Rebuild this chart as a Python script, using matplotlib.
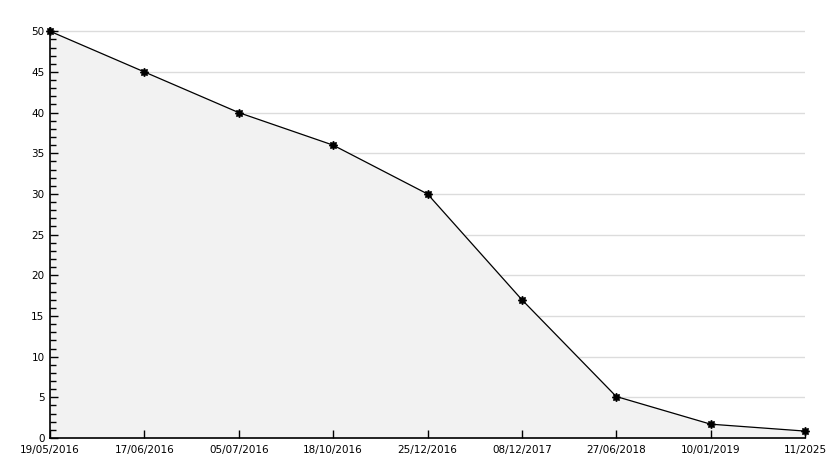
import matplotlib.pyplot as plt
from matplotlib.ticker import MultipleLocator

dates = ["19/05/2016", "17/06/2016", "05/07/2016", "18/10/2016", "25/12/2016",
         "08/12/2017", "27/06/2018", "10/01/2019", "11/2025"]
values = [50, 45, 40, 36, 30, 17, 5.1, 1.7, 0.85]
grid_levels = [5, 10, 15, 20, 25, 30, 35, 40, 45, 50]

fig = plt.figure(figsize=(8.34, 4.68), dpi=100)
W, H = 834, 468
ax = fig.add_axes([50 / W, 30 / H, 755 / W, 410 / H])

x = range(len(dates))
# grid sits behind the shaded area
for g in grid_levels:
    ax.axhline(g, color="#dcdcdc", lw=1, zorder=0)
ax.fill_between(x, values, 0, color="#f2f2f2", zorder=1)
ax.plot(x, values, color="black", lw=0.9, zorder=3)
ax.plot(x, values, linestyle="none", marker=(8, 1, 0), ms=6,
        color="black", zorder=4, clip_on=False)

ax.set_xlim(0, len(dates) - 1)
ax.set_ylim(0, 50.4)
ax.yaxis.set_major_locator(MultipleLocator(5))
ax.yaxis.set_minor_locator(MultipleLocator(1))
ax.set_xticks(list(x))
ax.set_xticklabels(dates)

for s in ["top", "right"]:
    ax.spines[s].set_visible(False)
for s in ["left", "bottom"]:
    ax.spines[s].set_linewidth(1.2)

ax.tick_params(axis="y", which="major", direction="in", length=6, width=1,
               labelsize=7.5, pad=4)
ax.tick_params(axis="y", which="minor", direction="in", length=4, width=1)
ax.tick_params(axis="x", direction="in", length=6, width=1, labelsize=7.5,
               pad=5)

fig.savefig("out.png", dpi=100)
